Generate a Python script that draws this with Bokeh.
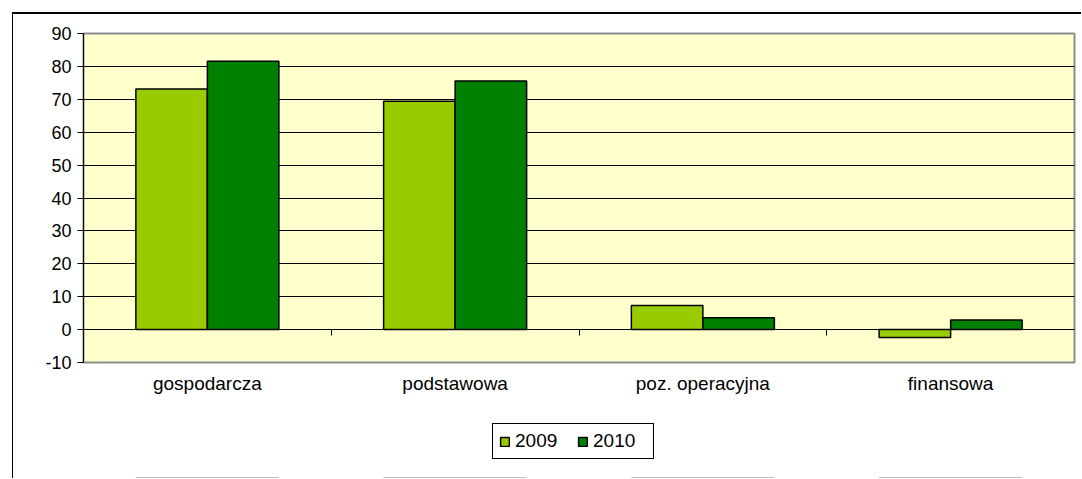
from bokeh.plotting import figure
from bokeh.layouts import column
from bokeh.models import Range1d, LinearAxis, FixedTicker, Legend, LegendItem, ColumnDataSource
from bokeh.embed import file_html
from bokeh.resources import INLINE
from bokeh.transform import dodge

categories = ["gospodarcza", "podstawowa", "poz. operacyjna", "finansowa"]
years = ["2009", "2010"]
values_2009 = [73.1, 69.4, 7.3, -2.4]
values_2010 = [81.6, 75.6, 3.6, 2.9]
y_ticks = list(range(-10, 100, 10))
colors = ["#99CC00", "#008000"]

centers = [i + 0.5 for i in range(len(categories))]
boundaries = list(range(1, len(categories)))
bar_w = 0.2886

src = ColumnDataSource(dict(x=centers, cat=categories, v2009=values_2009, v2010=values_2010))

FONT = "Liberation Sans"

p = figure(x_range=Range1d(0, len(categories)), y_range=Range1d(-10, 90),
           output_backend="svg", toolbar_location=None,
           frame_width=991, frame_height=329,
           min_border_left=70, min_border_top=19, min_border_right=7, min_border_bottom=40,
           background_fill_color="#FFFFCC", border_fill_color="white")

p.outline_line_color = "#8C8C8C"
p.outline_line_width = 2

r1 = p.vbar(x=dodge("x", -bar_w / 2), top="v2009", bottom=0, width=bar_w, source=src,
            fill_color=colors[0], line_color="black", line_width=1.5)
r2 = p.vbar(x=dodge("x", bar_w / 2), top="v2010", bottom=0, width=bar_w, source=src,
            fill_color=colors[1], line_color="black", line_width=1.5)

# y axis
p.yaxis.ticker = FixedTicker(ticks=y_ticks)
p.yaxis.major_label_overrides = {t: str(t) for t in y_ticks}
p.yaxis.axis_line_color = "black"
p.yaxis.major_tick_in = 0
p.yaxis.major_tick_out = 6
p.yaxis.minor_tick_line_color = None
p.yaxis.major_label_text_font = FONT
p.yaxis.major_label_text_font_size = "18px"
p.yaxis.major_label_text_color = "black"
p.yaxis.major_label_standoff = 6

p.ygrid.ticker = FixedTicker(ticks=y_ticks)
p.ygrid.grid_line_color = "black"
p.ygrid.grid_line_width = 1
p.xgrid.visible = False

# category labels
p.xaxis.ticker = FixedTicker(ticks=centers)
p.xaxis.major_label_overrides = {c: cat for c, cat in zip(centers, categories)}
p.xaxis.axis_line_color = None
p.xaxis.major_tick_line_color = None
p.xaxis.major_tick_out = 0
p.xaxis.major_tick_in = 0
p.xaxis.minor_tick_line_color = None
p.xaxis.major_label_text_font = FONT
p.xaxis.major_label_text_font_size = "19px"
p.xaxis.major_label_text_color = "black"
p.xaxis.major_label_standoff = 10

# zero-crossing category axis with boundary ticks (minor ticks only, no labels)
zero_axis = LinearAxis(fixed_location=0, ticker=FixedTicker(ticks=[], minor_ticks=boundaries),
                       major_tick_in=0, major_tick_out=0,
                       minor_tick_in=0, minor_tick_out=6, minor_tick_line_color="black",
                       axis_line_color="black", major_label_standoff=0)
p.add_layout(zero_axis, "below")

# legend strip below the chart (same bars, kept out of its visible range)
q = figure(width=1068, height=76, x_range=Range1d(0, len(categories)), y_range=Range1d(1000, 1001),
           output_backend="svg", toolbar_location=None,
           x_axis_location=None, y_axis_location=None,
           min_border=0, min_border_left=0, min_border_right=0, min_border_top=0, min_border_bottom=0,
           background_fill_color="white", border_fill_color="white", outline_line_color=None)
q.xgrid.visible = False
q.ygrid.visible = False
l1 = q.vbar(x=dodge("x", -bar_w / 2), top="v2009", bottom=0, width=bar_w, source=src,
            fill_color=colors[0], line_color="black", line_width=1.5)
l2 = q.vbar(x=dodge("x", bar_w / 2), top="v2010", bottom=0, width=bar_w, source=src,
            fill_color=colors[1], line_color="black", line_width=1.5)

legend = Legend(items=[LegendItem(label=years[0], renderers=[l1]),
                       LegendItem(label=years[1], renderers=[l2])],
                orientation="horizontal", location=(409, 19),
                label_text_font=FONT, label_text_font_size="19px",
                label_text_color="black",
                glyph_width=11, glyph_height=11, spacing=8, label_standoff=5,
                label_width=54, label_height=21,
                padding=6, margin=0,
                border_line_color="black", border_line_width=1, border_line_alpha=1.0,
                background_fill_color="white")
q.add_layout(legend, "center")

page = column(p, q, spacing=0)
page.styles = {"border-top": "2px solid #000000", "border-left": "1px solid #000000",
               "margin-left": "12px", "margin-top": "12px"}

open("out.html", "w").write(file_html(page, INLINE))
